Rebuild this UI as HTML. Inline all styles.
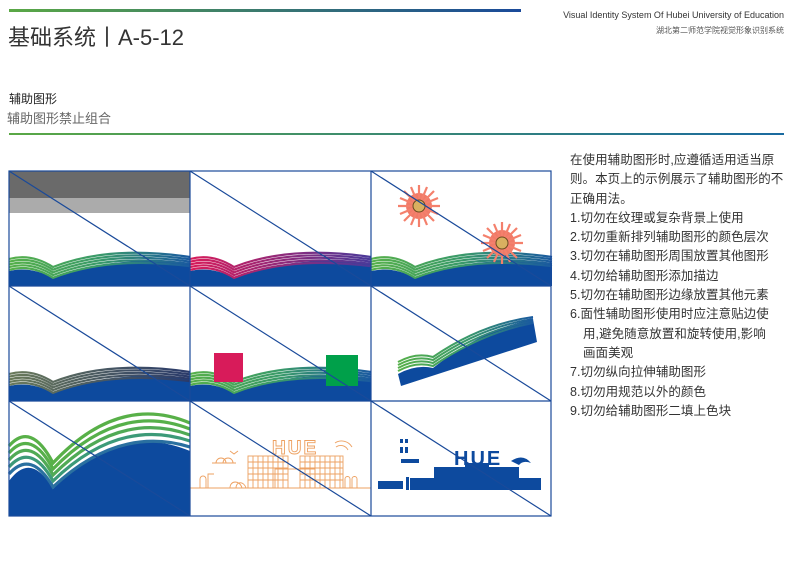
<!DOCTYPE html>
<html><head><meta charset="utf-8"><style>
html,body{margin:0;padding:0;background:#fff;}
body{width:799px;height:588px;position:relative;overflow:hidden;font-family:"Liberation Sans","Noto Sans CJK SC",sans-serif;}
.a{position:absolute;white-space:nowrap;}
</style></head><body>
<div class="a" style="left:9px;top:9px;width:512px;height:3px;background:linear-gradient(90deg,#5aa845,#1a4a9a);"></div>
<div class="a" style="left:8px;top:20px;font-size:22px;color:#333;">基础系统丨A-5-12</div>
<div class="a" style="right:15px;top:10px;font-size:9px;color:#333;">Visual Identity System Of Hubei University of Education</div>
<div class="a" style="right:15px;top:25px;font-size:8px;color:#555;">湖北第二师范学院视觉形象识别系统</div>
<div class="a" style="left:9px;top:90px;font-size:12px;color:#222;">辅助图形</div>
<div class="a" style="left:7px;top:108px;font-size:13px;color:#666;">辅助图形禁止组合</div>
<div class="a" style="left:9px;top:133px;width:775px;height:2px;background:linear-gradient(90deg,#5aa845,#1a6aa0);"></div>

<div class="a" style="left:570px;top:151px;font-size:12.5px;color:#333;line-height:19.3px;letter-spacing:0.05px;">
在使用辅助图形时,应遵循适用适当原<br>
则。本页上的示例展示了辅助图形的不<br>
正确用法。<br>
1.切勿在纹理或复杂背景上使用<br>
2.切勿重新排列辅助图形的颜色层次<br>
3.切勿在辅助图形周围放置其他图形<br>
4.切勿给辅助图形添加描边<br>
5.切勿在辅助图形边缘放置其他元素<br>
6.面性辅助图形使用时应注意贴边使<br>
<span style="padding-left:13px">用,避免随意放置和旋转使用,影响</span><br>
<span style="padding-left:13px">画面美观</span><br>
7.切勿纵向拉伸辅助图形<br>
8.切勿用规范以外的颜色<br>
9.切勿给辅助图形二填上色块
</div>

<svg class="a" style="left:0;top:0" width="799" height="588" viewBox="0 0 799 588">
<defs>
<g id="base"><path d="M0,100 Q22,95 44,107 Q100,84 181,92 L181,115 L0,115 Z" fill="#0d4a9e"/></g>
<g id="gs" fill="none" stroke-width="2.2">
<path d="M0,88 Q22,82 44,96 Q100,74 181,86"/>
<path d="M0,90.7 Q22,84.7 44,98.7 Q100,76.7 181,88.3"/>
<path d="M0,93.4 Q22,87.4 44,101.4 Q100,79.4 181,90.6"/>
<path d="M0,96.1 Q22,90.1 44,104.1 Q100,82.1 181,92.9"/>
<path d="M0,98.8 Q22,92.8 44,106.8 Q100,84.8 181,95.2"/>
</g>
<linearGradient id="gb" x1="0" x2="1"><stop offset="0" stop-color="#56b04a"/><stop offset="0.5" stop-color="#3a9a6a"/><stop offset="1" stop-color="#1a5aa0"/></linearGradient>
<linearGradient id="pm" x1="0" x2="1"><stop offset="0" stop-color="#d81b5a"/><stop offset="1" stop-color="#4a3a9a"/></linearGradient>
<linearGradient id="gr" x1="0" x2="1"><stop offset="0" stop-color="#6a7a5a"/><stop offset="1" stop-color="#2a3a6a"/></linearGradient>
<g id="flower">
<circle r="13" fill="#f07a68"/>
<g stroke="#f4806c" stroke-width="2.2">
<line x1="-21" y1="0" x2="21" y2="0"/><line x1="0" y1="-21" x2="0" y2="21"/>
<line x1="-15" y1="-15" x2="15" y2="15"/><line x1="-15" y1="15" x2="15" y2="-15"/>
<line x1="-19" y1="-8" x2="19" y2="8"/><line x1="-19" y1="8" x2="19" y2="-8"/>
<line x1="-8" y1="-19" x2="8" y2="19"/><line x1="8" y1="-19" x2="-8" y2="19"/>
</g>
<circle r="6" fill="#d9b060" stroke="#6a4a20" stroke-width="1"/>
</g>
</defs>

<g transform="translate(9,171)">
<rect width="181" height="27" fill="#6a6a6a"/><rect y="27" width="181" height="15" fill="#ababab"/>
<use href="#base"/><use href="#gs" stroke="url(#gb)"/>
</g>
<g transform="translate(190,171)"><use href="#base"/><use href="#gs" stroke="url(#pm)"/></g>
<g transform="translate(371,171)"><use href="#base"/><use href="#gs" stroke="url(#gb)"/>
<use href="#flower" transform="translate(48,35)"/><use href="#flower" transform="translate(131,72)"/></g>
<g transform="translate(9,286)"><use href="#base"/><use href="#gs" stroke="url(#gr)"/></g>
<g transform="translate(190,286)"><use href="#base"/><use href="#gs" stroke="url(#gb)"/>
<rect x="24" y="67" width="29" height="29" fill="#d81b5a"/><rect x="136" y="69" width="32" height="31" fill="#00a04a"/></g>
<g transform="translate(371,286)">
<path d="M30,100 L166,56 L162,33 Q110,44 62,82 Q45,78 27,88 Z" fill="#0d4a9e"/>
<g fill="none" stroke="url(#gb)" stroke-width="2">
<path d="M27,76 Q45,66 62,71 Q110,38 162,31"/>
<path d="M27,79 Q45,69 62,74 Q110,41 162,33"/>
<path d="M27,82 Q45,72 62,77 Q110,44 162,35"/>
<path d="M27,85 Q45,75 62,80 Q110,47 162,37"/>
</g></g>
<g transform="translate(9,401)">
<path d="M0,80 Q22,50 44,88 Q110,20 181,50 L181,115 L0,115 Z" fill="#0d4a9e"/>
<g fill="none" stroke-width="3.2">
<path d="M0,45 Q22,20 44,62 Q110,-8 181,22" stroke="#58b048"/>
<path d="M0,52 Q22,27 44,68 Q110,0 181,28" stroke="#56b04a"/>
<path d="M0,59 Q22,34 44,74 Q110,8 181,34" stroke="#50aa55"/>
<path d="M0,66 Q22,41 44,80 Q110,16 181,40" stroke="#3c9a78"/>
<path d="M0,73 Q22,48 44,86 Q110,24 181,46" stroke="#2a70a0"/>
</g>
</g>
<g transform="translate(190,401)" fill="none" stroke="#eda060" stroke-width="0.9">
<text x="82" y="53" font-size="19" font-family="Liberation Sans" font-weight="bold" letter-spacing="2" fill="none" stroke="#eda060" stroke-width="0.9">HUE</text>
<rect x="58" y="55" width="40" height="32"/><rect x="110" y="55" width="43" height="32"/><rect x="85" y="68" width="40" height="19"/>
<path d="M58,61H98M58,67H98M58,73H98M58,79H98M110,61H153M110,67H153M110,73H153M110,79H153M63,55V87M68,55V87M73,55V87M78,55V87M83,55V87M88,55V87M93,55V87M115,55V87M120,55V87M125,55V87M130,55V87M135,55V87M140,55V87M145,55V87M150,55V87"/>
<line x1="0" y1="87" x2="181" y2="87"/>
<path d="M26,62a5,5 0 0 1 10,0M33,62a5,5 0 0 1 10,0M22,62h24M40,50l4,3 4,-3M10,87v-9a3,3 0 0 1 6,0v9M18,87v-14h6M40,87c0-8 10-8 12 0M46,87c0-7 8-7 10 0M155,87v-9a2,2 0 0 1 5,0v9M162,87v-9a2,2 0 0 1 5,0v9M145,42a12,12 0 0 1 17,4M146,46a8,8 0 0 1 12,3"/>
</g>
<g transform="translate(371,401)" fill="#0d4a9e">
<text x="83" y="64" font-size="20" font-family="Liberation Sans" font-weight="bold" letter-spacing="2">HUE</text>
<rect x="63" y="66" width="85" height="11"/><rect x="94" y="62" width="24" height="6"/>
<rect x="39" y="77" width="131" height="12"/>
<rect x="7" y="80" width="25" height="8"/><rect x="35" y="76" width="3" height="13"/>
<rect x="30" y="58" width="18" height="4"/><rect x="29" y="38" width="3" height="4"/><rect x="34" y="38" width="3" height="4"/><rect x="29" y="46" width="3" height="6"/><rect x="34" y="46" width="3" height="6"/>
<path d="M140,60 q12,-8 20,2 q-8,-3 -12,2z"/>
</g>

<g fill="none" stroke="#1a4a9a" stroke-width="1.2">
<rect x="9" y="171" width="542" height="345"/>
<line x1="190" y1="171" x2="190" y2="516"/><line x1="371" y1="171" x2="371" y2="516"/>
<line x1="9" y1="286" x2="551" y2="286"/><line x1="9" y1="401" x2="551" y2="401"/>
<path d="M9,171L190,286M190,171L371,286M371,171L551,286M9,286L190,401M190,286L371,401M371,286L551,401M9,401L190,516M190,401L371,516M371,401L551,516"/>
</g>
</svg>
</body></html>
